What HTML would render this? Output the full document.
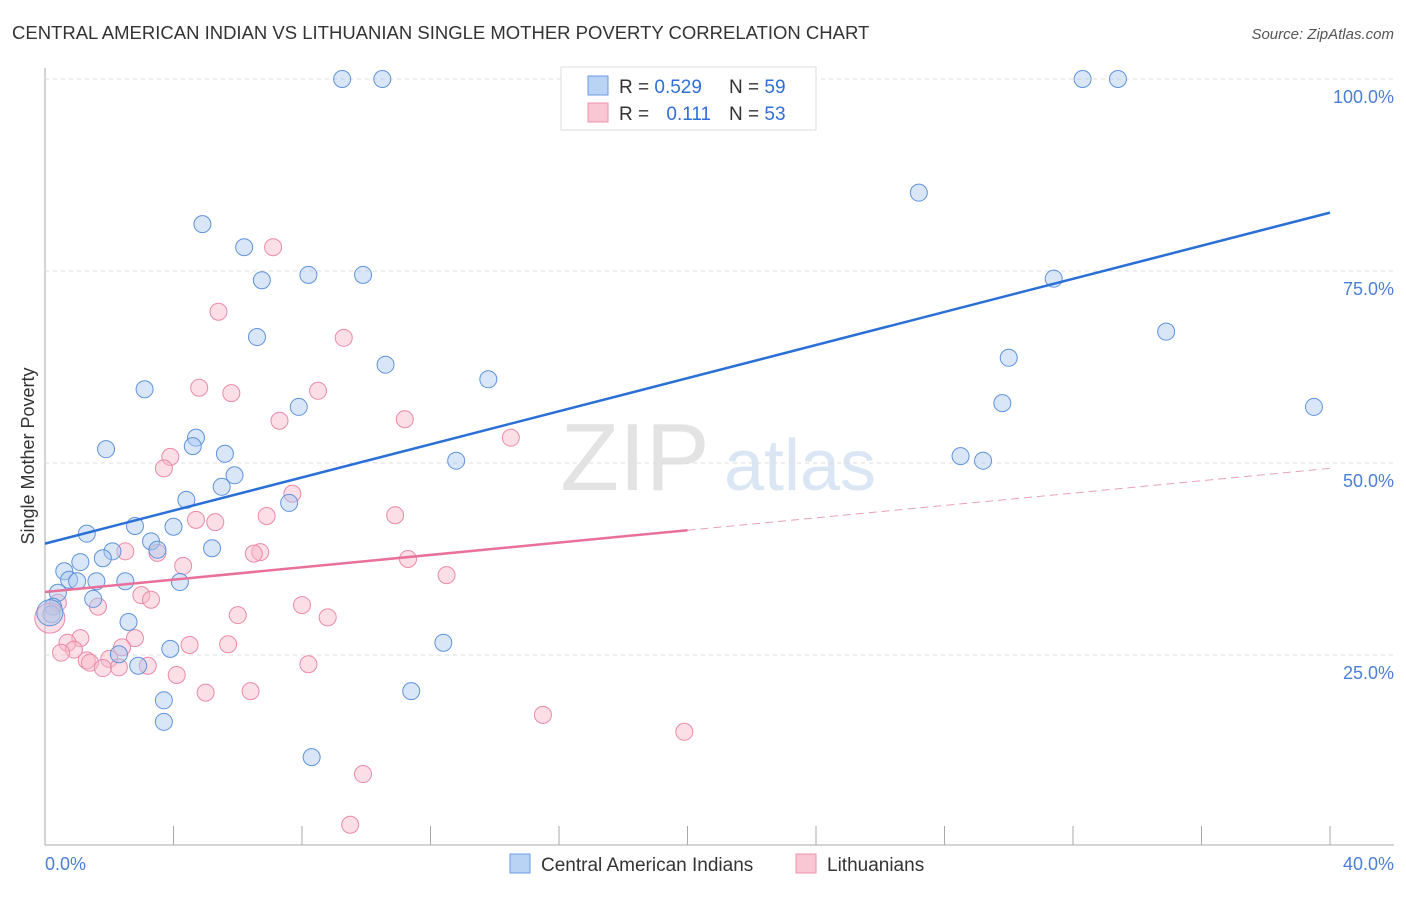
<!DOCTYPE html>
<html><head><meta charset="utf-8"><style>
body{margin:0;background:#fff;font-family:"Liberation Sans",sans-serif;}
svg text{font-family:"Liberation Sans",sans-serif;}
</style></head><body>
<svg id="c" width="1406" height="892">
<text x="12" y="39" font-size="18.5" fill="#333">CENTRAL AMERICAN INDIAN VS LITHUANIAN SINGLE MOTHER POVERTY CORRELATION CHART</text>
<text x="1394" y="39" font-size="15" fill="#555" font-style="italic" text-anchor="end">Source: ZipAtlas.com</text>
<text x="635" y="490" font-size="96" fill="#e3e3e3" font-family="Liberation Serif" text-anchor="middle">ZIP</text>
<text x="800" y="490" font-size="72" fill="#dbe6f5" text-anchor="middle">atlas</text>
<g id="grid"></g><g id="pts"></g><g id="lines"></g>
<text transform="translate(34,456) rotate(-90)" font-size="18" fill="#333" text-anchor="middle">Single Mother Poverty</text>
<text x="45" y="870" font-size="18" fill="#4a7fd4">0.0%</text>
<text x="1394" y="870" font-size="18" fill="#4a7fd4" text-anchor="end">40.0%</text>
<g>
<rect x="561" y="67" width="255" height="63" fill="#fff" stroke="#ddd"/>
<rect x="588" y="76" width="20" height="19" fill="#b9d3f4" stroke="#6a9be0"/>
<rect x="588" y="103" width="20" height="19" fill="#f9c6d4" stroke="#ec93ad"/>
<text x="619" y="93" font-size="19" fill="#333">R = <tspan fill="#2f6fd6">0.529</tspan></text>
<text x="729" y="93" font-size="19" fill="#333">N = <tspan fill="#2f6fd6">59</tspan></text>
<text x="619" y="120" font-size="19" fill="#333">R = <tspan fill="#2f6fd6" dx="12">0.111</tspan></text>
<text x="729" y="120" font-size="19" fill="#333">N = <tspan fill="#2f6fd6">53</tspan></text>
</g>
<g>
<rect x="510" y="854" width="20" height="19" fill="#b9d3f4" stroke="#6a9be0"/>
<text x="541" y="871" font-size="19" fill="#333">Central American Indians</text>
<rect x="796" y="854" width="20" height="19" fill="#f9c6d4" stroke="#ec93ad"/>
<text x="827" y="871" font-size="19" fill="#333">Lithuanians</text>
</g>
</svg>
<script>
const blueX=[9.25,10.5,32.3,33.4,27.2,4.9,6.2,6.75,8.2,9.9,31.4,6.6,34.9,30.0,10.6,13.8,3.1,29.8,39.5,7.9,4.7,1.9,4.6,5.6,28.5,29.2,12.8,5.9,5.5,4.4,7.6,2.8,1.3,4.0,3.3,5.2,3.5,2.1,1.8,1.1,0.6,0.75,1.0,1.6,2.5,4.2,0.4,1.5,0.25,0.2,2.6,12.4,3.9,2.3,2.9,11.4,3.7,3.7,8.3];
const blueY=[100,100,100,100,85.2,81.1,78.1,73.8,74.5,74.5,74.0,66.4,67.1,63.7,62.8,60.9,59.6,57.8,57.3,57.3,53.3,51.8,52.2,51.2,50.9,50.3,50.3,48.4,46.9,45.2,44.8,41.8,40.8,41.7,39.8,38.9,38.7,38.5,37.6,37.1,35.9,34.8,34.6,34.6,34.6,34.5,33.1,32.3,31.3,30.3,29.3,26.6,25.8,25.1,23.6,20.3,19.1,16.3,11.7];
const pinkX=[7.1,5.4,9.3,4.8,5.8,8.5,11.2,7.3,14.5,3.9,3.7,7.7,10.9,4.7,5.3,6.9,2.5,3.5,6.7,6.5,11.3,4.3,12.5,3.0,3.3,8.0,0.4,1.65,6.0,8.8,1.1,2.8,0.7,4.5,5.7,2.4,0.9,0.5,1.3,2.0,1.4,2.3,1.8,3.2,8.2,4.1,5.0,6.4,15.5,19.9,9.9,9.5];
const pinkY=[78.1,69.7,66.3,59.8,59.1,59.4,55.7,55.5,53.3,50.8,49.3,46.0,43.2,42.6,42.3,43.1,38.5,38.3,38.4,38.2,37.5,36.6,35.4,32.8,32.2,31.5,31.8,31.3,30.2,29.9,27.2,27.2,26.6,26.3,26.4,26.0,25.7,25.3,24.3,24.5,24.0,23.4,23.3,23.6,23.8,22.4,20.1,20.3,17.2,15.0,9.5,2.9];
const blueLine=[39.5,82.6];
const pinkLine=[33.2,49.3];
const yTicks=[25,50,75,100];
const yTickLabels=["25.0%","50.0%","75.0%","100.0%"];
const xTicks=[0,4,8,12,16,20,24,28,32,36,40];
const NS="http://www.w3.org/2000/svg";
const X=v=>45+v*32.125, Y=v=>847-v*7.68;
function mk(t,a,p){const e=document.createElementNS(NS,t);for(const k in a)e.setAttribute(k,a[k]);p.appendChild(e);return e;}
const g=document.getElementById('grid');
const ax=mk('line',{x1:45,y1:68,x2:45,y2:845,stroke:'#aaa'},g);


const bx=mk('line',{x1:45,y1:845,x2:1394,y2:845,stroke:'#aaa'},g);


yTicks.forEach((v,i)=>{
 const l=mk('line',{x1:45,x2:1394,y1:Y(v),y2:Y(v),stroke:'#ddd','stroke-dasharray':'4,4'},g);
 
 
 const t=mk('text',{x:1394,y:Y(v)+24,'font-size':18,fill:'#4a7fd4','text-anchor':'end'},g);
 t.textContent=yTickLabels[i];
 
 
});
xTicks.forEach(v=>{
 const l=mk('line',{x1:X(v),x2:X(v),y1:826,y2:845,stroke:'#aaa'},g);
 
 
});
const p=document.getElementById('pts');
function dot(x,y,f,s,n,r){const c=mk('circle',{cx:X(x),cy:Y(y),r:r||8.5,fill:f,'fill-opacity':0.45,stroke:s,'stroke-width':1},p);
 
 }
pinkX.forEach((x,i)=>dot(x,pinkY[i],'#f7b6c8','#ec8aa8','lithuanian-point'));
blueX.forEach((x,i)=>dot(x,blueY[i],'#a9c8f0','#5f93dc','central-american-indian-point'));
dot(0.15,29.8,'#f7b6c8','#ec8aa8','lithuanian-point',15);
dot(0.15,30.5,'#a9c8f0','#5f93dc','central-american-indian-point',13);
const L=document.getElementById('lines');
const b=mk('line',{x1:X(0),y1:Y(blueLine[0]),x2:X(40),y2:Y(blueLine[1]),stroke:'#2a6fd6','stroke-width':2.5},L);


const pm=v=>pinkLine[0]+(pinkLine[1]-pinkLine[0])*v/40;
const ps=mk('line',{x1:X(0),y1:Y(pm(0)),x2:X(20),y2:Y(pm(20)),stroke:'#e8709a','stroke-width':2.5},L);


const pd=mk('line',{x1:X(20),y1:Y(pm(20)),x2:X(40),y2:Y(pm(40)),stroke:'#e8a0b8','stroke-width':1,'stroke-dasharray':'8,5'},L);


</script>
</body></html>
